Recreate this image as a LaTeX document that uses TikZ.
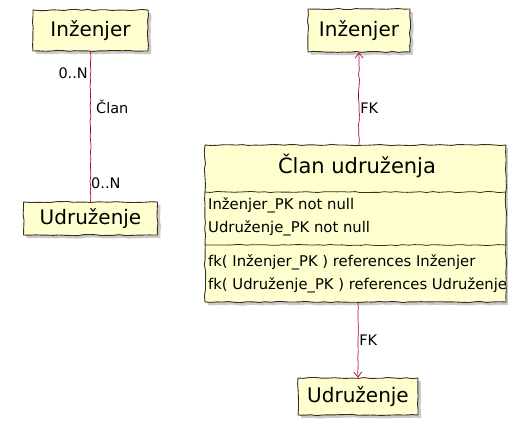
\documentclass[tikz,border=0pt]{standalone}
\usepackage{fontspec}
\setmainfont{DejaVu Sans}
\usetikzlibrary{decorations.pathmorphing,arrows.meta,shadows,calc}
\definecolor{boxfill}{HTML}{FEFECE}
\definecolor{boxline}{HTML}{3A2E22}
\definecolor{linkc}{HTML}{A80036}
\pgfmathsetseed{7}
\tikzset{
  sketchy/.style={decorate, decoration={random steps, segment length=6pt, amplitude=0.6pt}},
  entity/.style={draw=boxline, fill=boxfill, line width=0.9pt, sketchy, inner sep=0pt,
    drop shadow={shadow xshift=3pt, shadow yshift=-3pt, opacity=0.35, fill=black!60},
    font=\fontsize{20}{22}\selectfont},
  conn/.style={draw=linkc, line width=0.7pt, decorate, decoration={random steps, segment length=5pt, amplitude=0.5pt}},
  lbl/.style={font=\fontsize{14.5}{16}\selectfont, inner sep=1pt, text=black},
  row/.style={anchor=west, font=\fontsize{14.8}{16}\selectfont, inner sep=0pt},
  tip/.style={-{Straight Barb[length=5pt,width=8pt]}}
}
\begin{document}
\begin{tikzpicture}[x=1pt,y=-1pt]
\useasboundingbox (0,0) rectangle (508,421);

% conceptual model
\node[entity, minimum width=115pt, minimum height=41pt] (li) at (90.5,30.5) {Inženjer};
\node[entity, minimum width=134pt, minimum height=33pt] (lu) at (90.5,218.5) {Udruženje};
\path[conn] (li.south) -- (lu.north);
\node[lbl, anchor=east] (card1) at (89,73) {0..N};
\node[lbl, anchor=west] (rel) at (95,107) {Član};
\node[lbl, anchor=west] (card2) at (90,183) {0..N};

% relational model
\node[entity, minimum width=102pt, minimum height=43pt] (ri) at (359,30.5) {Inženjer};
\node[entity, minimum width=120pt, minimum height=37pt] (ru) at (358,396.5) {Udruženje};
\node[entity, minimum width=301pt, minimum height=157pt] (cls) at (355.5,223.5) {};
\node[font=\fontsize{21}{23}\selectfont] (title) at (357,166) {Član udruženja};
\draw[boxline, line width=0.8pt, sketchy] (cls.west |- 0,192) -- (cls.east |- 0,192);
\draw[boxline, line width=0.8pt, sketchy] (cls.west |- 0,245) -- (cls.east |- 0,245);
\node[row] (a1) at (208,205) {Inženjer\_PK not null};
\node[row] (a2) at (208,228) {Udruženje\_PK not null};
\node[row] (m1) at (208,262) {fk( Inženjer\_PK ) references Inženjer};
\node[row] (m2) at (208,285) {fk( Udruženje\_PK ) references Udruženje};

\draw[conn, tip] (cls.north -| ri.south) -- node[lbl, pos=0.4, anchor=west] (fk1) {FK} (ri.south);
\draw[conn, tip] (cls.south -| ru.north) -- node[lbl, pos=0.5, anchor=west] (fk2) {FK} (ru.north);
\end{tikzpicture}
\end{document}
